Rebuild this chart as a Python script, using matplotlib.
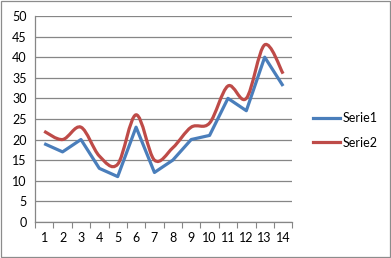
import numpy as np
import matplotlib
matplotlib.use('Agg')
from matplotlib import pyplot as plt
from matplotlib.path import Path
from matplotlib.patches import PathPatch
from matplotlib.lines import Line2D

categories = list(range(1, 15))
serie1 = [19, 17, 20, 13, 11, 23, 12, 15, 20, 21, 30, 27, 40, 33]
serie2 = [22, 20, 23, 16, 14, 26, 15, 18, 23, 24, 33, 30, 43, 36]
y_ticks = list(range(0, 55, 5))

BLUE = '#4a7ebb'
RED = '#be4b48'
GRID = '#868686'


def smooth_path(xs, ys, tension=1 / 6):
    """Excel-like smoothed line as cubic bezier path through the points."""
    pts = np.column_stack([xs, ys]).astype(float)
    n = len(pts)
    verts = [pts[0]]
    codes = [Path.MOVETO]
    for i in range(n - 1):
        p0 = pts[i - 1] if i > 0 else pts[i]
        p1 = pts[i]
        p2 = pts[i + 1]
        p3 = pts[i + 2] if i + 2 < n else pts[i + 1]
        c1 = p1 + (p2 - p0) * tension
        c2 = p2 - (p3 - p1) * tension
        verts += [c1, c2, p2]
        codes += [Path.CURVE4] * 3
    return Path(verts, codes)


plt.rcParams['font.family'] = ['Lato', 'DejaVu Sans']
fig = plt.figure(figsize=(3.91, 2.58), dpi=100)
ax = fig.add_axes([0.0895, 0.140, 0.658, 0.798])

ax.plot(categories, serie1, color=BLUE, lw=2.3, solid_joinstyle='round',
        solid_capstyle='butt', zorder=3)
ax.add_patch(PathPatch(smooth_path(categories, serie2), facecolor='none',
                       edgecolor=RED, lw=2.3, capstyle='butt', zorder=3))

ax.set_xlim(0.5, 14.5)
ax.set_ylim(0, 50)
ax.set_yticks(y_ticks)
ax.yaxis.grid(True, color=GRID, lw=0.9)
ax.set_axisbelow(True)
ax.set_xticks(np.arange(0.5, 15, 1))
ax.set_xticklabels([])
ax.set_xticks(categories, minor=True)
ax.set_xticklabels([str(c) for c in categories], minor=True)
ax.tick_params(axis='x', which='major', length=4, color=GRID, direction='out')
ax.tick_params(axis='x', which='minor', length=0, pad=7, labelsize=9)
ax.tick_params(axis='y', length=0, pad=6, labelsize=9)
for s in ['top', 'right']:
    ax.spines[s].set_visible(False)
for s in ['left', 'bottom']:
    ax.spines[s].set_color(GRID)
    ax.spines[s].set_linewidth(0.9)

handles = [Line2D([], [], color=BLUE, lw=2.3), Line2D([], [], color=RED, lw=2.3)]
fig.legend(handles, ['Serie1', 'Serie2'], loc='center left',
           bbox_to_anchor=(0.80, 0.495), frameon=False, fontsize=9,
           handlelength=2.2, handletextpad=0.15, labelspacing=1.0,
           borderpad=0, borderaxespad=0)

fig.patches.append(plt.Rectangle((0.002, 0.003), 0.995, 0.993, transform=fig.transFigure,
                                 fill=False, edgecolor='#8c8c8c', lw=0.9))
fig.savefig('out.png', dpi=100)
